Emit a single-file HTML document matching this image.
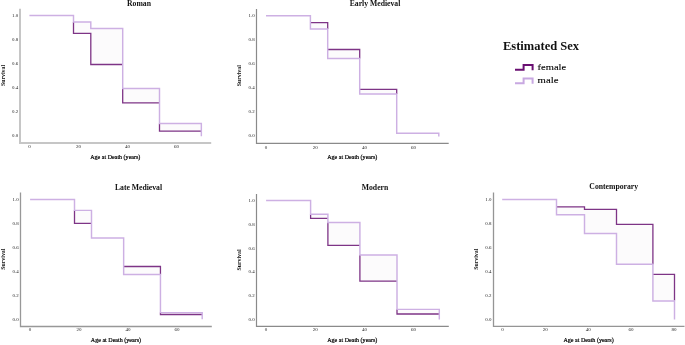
<!DOCTYPE html>
<html><head><meta charset="utf-8"><style>
html,body{margin:0;padding:0;background:#fff;width:685px;height:345px;overflow:hidden}
svg{display:block;will-change:transform}
text{font-family:"Liberation Serif",serif;}
.ty{font-size:4.9px;fill:#222}
.tx{font-size:5.0px;fill:#222}
.xl{font-size:6.05px;fill:#000;stroke:#000;stroke-width:0.2px}
.yl{font-size:5.85px;font-weight:bold;fill:#111}
.tt{font-size:7.7px;font-weight:bold;fill:#111}
.lt{font-size:12.5px;font-weight:bold;fill:#111;text-anchor:middle}
.ll{font-size:8.7px;fill:#000;stroke:#000;stroke-width:0.1px}
</style></head><body>
<svg width="685" height="345" viewBox="0 0 685 345">
<rect width="685" height="345" fill="#fff"/>
<path d="M20.0,8.8 V143.0 H211.2" fill="none" stroke="#c6c6c6" stroke-width="2.0"/>
<text class="ty" x="18.1" y="136.9" text-anchor="end">0.0</text>
<text class="ty" x="18.1" y="113.0" text-anchor="end">0.2</text>
<text class="ty" x="18.1" y="89.0" text-anchor="end">0.4</text>
<text class="ty" x="18.1" y="65.0" text-anchor="end">0.6</text>
<text class="ty" x="18.1" y="41.0" text-anchor="end">0.8</text>
<text class="ty" x="18.1" y="16.9" text-anchor="end">1.0</text>
<text class="tx" x="29.5" y="148.4" text-anchor="middle">0</text>
<text class="tx" x="78.5" y="148.4" text-anchor="middle">20</text>
<text class="tx" x="127.5" y="148.4" text-anchor="middle">40</text>
<text class="tx" x="176.5" y="148.4" text-anchor="middle">60</text>
<text class="xl" x="115.3" y="159.0" text-anchor="middle">Age at Death (years)</text>
<text class="yl" transform="translate(4.5,75.5) rotate(-90)" text-anchor="middle">Survival</text>
<text class="tt" x="139.0" y="6.1" text-anchor="middle">Roman</text>
<path d="M29.4,15.5 L73.5,15.5 L73.5,33.4 L90.8,33.4 L90.8,64.5 L122.7,64.5 L122.7,102.8 L159.5,102.8 L159.5,131.2 L201.35,131.2 L201.35,136.2 L201.35,123.5 L159.5,123.5 L159.5,88.55 L122.7,88.55 L122.7,28.4 L90.8,28.4 L90.8,22 L73.5,22 L73.5,15.5 L29.4,15.5 Z" fill="#fcfbfc" stroke="none" fill-rule="evenodd"/>
<path d="M73.5,22 L73.5,33.4 L90.8,33.4 L90.8,64.5 L122.7,64.5 M122.7,88.55 L122.7,102.8 L159.5,102.8 M159.5,123.5 L159.5,131.2 L201.35,131.2" fill="none" stroke="#7e3486" stroke-width="1.3"/>
<path d="M29.4,15.5 H73.5 V22.0 H90.8 V28.4 H122.7 V88.55 H159.5 V123.5 H201.35 V136.2" fill="none" stroke="#cdb0e3" stroke-width="1.45"/>
<path d="M256.5,9.1 V143.4 H448.7" fill="none" stroke="#8a8a8a" stroke-width="1.2"/>
<text class="ty" x="254.6" y="137.2" text-anchor="end">0.0</text>
<text class="ty" x="254.6" y="113.3" text-anchor="end">0.2</text>
<text class="ty" x="254.6" y="89.3" text-anchor="end">0.4</text>
<text class="ty" x="254.6" y="65.3" text-anchor="end">0.6</text>
<text class="ty" x="254.6" y="41.2" text-anchor="end">0.8</text>
<text class="ty" x="254.6" y="17.2" text-anchor="end">1.0</text>
<text class="tx" x="266.0" y="148.5" text-anchor="middle">0</text>
<text class="tx" x="315.2" y="148.5" text-anchor="middle">20</text>
<text class="tx" x="364.4" y="148.5" text-anchor="middle">40</text>
<text class="tx" x="413.6" y="148.5" text-anchor="middle">60</text>
<text class="xl" x="352.3" y="159.1" text-anchor="middle">Age at Death (years)</text>
<text class="yl" transform="translate(241.0,75.8) rotate(-90)" text-anchor="middle">Survival</text>
<text class="tt" x="375.0" y="5.8" text-anchor="middle">Early Medieval</text>
<path d="M266,15.7 L310.4,15.7 L310.4,22.55 L327.7,22.55 L327.7,49.5 L359.7,49.5 L359.7,89.4 L396.7,89.4 L396.7,133.3 L438.8,133.3 L438.8,136.6 L438.8,133.3 L396.7,133.3 L396.7,94 L359.7,94 L359.7,58.5 L327.7,58.5 L327.7,29 L310.4,29 L310.4,15.7 L266,15.7 Z" fill="#fcfbfc" stroke="none" fill-rule="evenodd"/>
<path d="M310.4,22.55 L327.7,22.55 L327.7,29 M327.7,49.5 L359.7,49.5 L359.7,58.5 M359.7,89.4 L396.7,89.4 L396.7,94" fill="none" stroke="#7e3486" stroke-width="1.3"/>
<path d="M266,15.7 H310.4 V29.0 H327.7 V58.5 H359.7 V94.0 H396.7 V133.3 H438.8 V136.6" fill="none" stroke="#cdb0e3" stroke-width="1.45"/>
<path d="M20.5,192.6 V326.5 H211.8" fill="none" stroke="#989898" stroke-width="1.3"/>
<text class="ty" x="18.6" y="320.6" text-anchor="end">0.0</text>
<text class="ty" x="18.6" y="296.7" text-anchor="end">0.2</text>
<text class="ty" x="18.6" y="272.7" text-anchor="end">0.4</text>
<text class="ty" x="18.6" y="248.7" text-anchor="end">0.6</text>
<text class="ty" x="18.6" y="224.7" text-anchor="end">0.8</text>
<text class="ty" x="18.6" y="200.8" text-anchor="end">1.0</text>
<text class="tx" x="30.1" y="331.4" text-anchor="middle">0</text>
<text class="tx" x="79.1" y="331.4" text-anchor="middle">20</text>
<text class="tx" x="128.1" y="331.4" text-anchor="middle">40</text>
<text class="tx" x="177.1" y="331.4" text-anchor="middle">60</text>
<text class="xl" x="115.9" y="342.0" text-anchor="middle">Age at Death (years)</text>
<text class="yl" transform="translate(5.0,259.2) rotate(-90)" text-anchor="middle">Survival</text>
<text class="tt" x="138.5" y="189.6" text-anchor="middle">Late Medieval</text>
<path d="M30.1,199.45 L74.5,199.45 L74.5,223.4 L91.5,223.4 L91.5,237.9 L123.65,237.9 L123.65,266.5 L160.45,266.5 L160.45,314.5 L202.2,314.5 L202.2,319.2 L202.2,312.6 L160.45,312.6 L160.45,274.4 L123.65,274.4 L123.65,237.9 L91.5,237.9 L91.5,210.35 L74.5,210.35 L74.5,199.45 L30.1,199.45 Z" fill="#fcfbfc" stroke="none" fill-rule="evenodd"/>
<path d="M74.5,210.35 L74.5,223.4 L91.5,223.4 M123.65,266.5 L160.45,266.5 L160.45,274.4 M160.45,312.6 L160.45,314.5 L202.2,314.5" fill="none" stroke="#7e3486" stroke-width="1.3"/>
<path d="M30.1,199.45 H74.5 V210.35 H91.5 V237.9 H123.65 V274.4 H160.45 V312.6 H202.2 V319.2" fill="none" stroke="#cdb0e3" stroke-width="1.45"/>
<path d="M256.5,194.1 V326.4 H448.8" fill="none" stroke="#8a8a8a" stroke-width="1.2"/>
<text class="ty" x="254.6" y="320.9" text-anchor="end">0.0</text>
<text class="ty" x="254.6" y="297.1" text-anchor="end">0.2</text>
<text class="ty" x="254.6" y="273.3" text-anchor="end">0.4</text>
<text class="ty" x="254.6" y="249.6" text-anchor="end">0.6</text>
<text class="ty" x="254.6" y="225.8" text-anchor="end">0.8</text>
<text class="ty" x="254.6" y="201.9" text-anchor="end">1.0</text>
<text class="tx" x="266.0" y="331.4" text-anchor="middle">0</text>
<text class="tx" x="315.2" y="331.4" text-anchor="middle">20</text>
<text class="tx" x="364.4" y="331.4" text-anchor="middle">40</text>
<text class="tx" x="413.6" y="331.4" text-anchor="middle">60</text>
<text class="xl" x="352.3" y="342.0" text-anchor="middle">Age at Death (years)</text>
<text class="yl" transform="translate(241.0,260.0) rotate(-90)" text-anchor="middle">Survival</text>
<text class="tt" x="375.0" y="189.7" text-anchor="middle">Modern</text>
<path d="M266.1,200.55 L310.6,200.55 L310.6,218.3 L327.9,218.3 L327.9,245.4 L359.9,245.4 L359.9,281.1 L397,281.1 L397,314 L439.3,314 L439.3,319.6 L439.3,309.35 L397,309.35 L397,254.9 L359.9,254.9 L359.9,222.4 L327.9,222.4 L327.9,214.3 L310.6,214.3 L310.6,200.55 L266.1,200.55 Z" fill="#fcfbfc" stroke="none" fill-rule="evenodd"/>
<path d="M310.6,214.3 L310.6,218.3 L327.9,218.3 M327.9,222.4 L327.9,245.4 L359.9,245.4 M359.9,254.9 L359.9,281.1 L397,281.1 M397,309.35 L397,314 L439.3,314" fill="none" stroke="#7e3486" stroke-width="1.3"/>
<path d="M266.1,200.55 H310.6 V214.3 H327.9 V222.4 H359.9 V254.9 H397.0 V309.35 H439.3 V319.6" fill="none" stroke="#cdb0e3" stroke-width="1.45"/>
<path d="M493.5,192.6 V326.4 H684.5" fill="none" stroke="#959595" stroke-width="1.3"/>
<text class="ty" x="491.4" y="320.8" text-anchor="end">0.0</text>
<text class="ty" x="491.4" y="296.8" text-anchor="end">0.2</text>
<text class="ty" x="491.4" y="272.8" text-anchor="end">0.4</text>
<text class="ty" x="491.4" y="248.8" text-anchor="end">0.6</text>
<text class="ty" x="491.4" y="224.8" text-anchor="end">0.8</text>
<text class="ty" x="491.4" y="200.8" text-anchor="end">1.0</text>
<text class="tx" x="502.4" y="331.4" text-anchor="middle">0</text>
<text class="tx" x="545.3" y="331.4" text-anchor="middle">20</text>
<text class="tx" x="588.2" y="331.4" text-anchor="middle">40</text>
<text class="tx" x="631.1" y="331.4" text-anchor="middle">60</text>
<text class="tx" x="674.0" y="331.4" text-anchor="middle">80</text>
<text class="xl" x="588.6" y="342.0" text-anchor="middle">Age at Death (years)</text>
<text class="yl" transform="translate(477.8,259.3) rotate(-90)" text-anchor="middle">Survival</text>
<text class="tt" x="613.7" y="189.1" text-anchor="middle">Contemporary</text>
<path d="M502.2,199.45 L556.5,199.45 L556.5,206.95 L584.5,206.95 L584.5,209.4 L616.5,209.4 L616.5,224.4 L652.9,224.4 L652.9,274.35 L674.5,274.35 L674.5,300.5 L674.5,319.5 L674.5,301 L652.9,301 L652.9,264.2 L616.5,264.2 L616.5,233.45 L584.5,233.45 L584.5,214.8 L556.5,214.8 L556.5,199.45 L502.2,199.45 Z" fill="#fcfbfc" stroke="none" fill-rule="evenodd"/>
<path d="M556.5,206.95 L584.5,206.95 L584.5,209.4 L616.5,209.4 L616.5,224.4 L652.9,224.4 L652.9,264.2 M652.9,274.35 L674.5,274.35 L674.5,300.5" fill="none" stroke="#7e3486" stroke-width="1.3"/>
<path d="M502.2,199.45 H556.5 V214.8 H584.5 V233.45 H616.5 V264.2 H652.9 V301.0 H674.5 V319.5" fill="none" stroke="#cdb0e3" stroke-width="1.45"/>

<text class="lt" x="541" y="50">Estimated Sex</text>
<path d="M515,69.7 H523.6 V65.0 H532.6 V70.3" fill="none" stroke="#6a0f72" stroke-width="2"/>
<path d="M515,83.2 H523.6 V78.4 H532.6 V83.8" fill="none" stroke="#c8a8e1" stroke-width="2"/>
<text class="ll" x="537.6" y="69.5" textLength="28.6" lengthAdjust="spacingAndGlyphs">female</text>
<text class="ll" x="537.6" y="82.9" textLength="20.8" lengthAdjust="spacingAndGlyphs">male</text>

</svg>
</body></html>
